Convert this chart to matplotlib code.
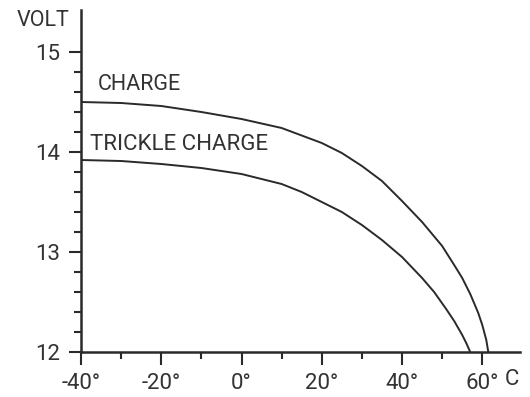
import numpy as np
import matplotlib
matplotlib.use("Agg")
import matplotlib.pyplot as plt
from matplotlib.ticker import FixedLocator

# Values (temperature in deg C, voltage in V)
charge_temp = [-40, -30, -20, -10, 0, 10, 20, 25, 30, 35, 40, 45, 50, 53, 55, 57, 59, 60, 61, 61.5]
charge_volt = [14.50, 14.49, 14.46, 14.40, 14.33, 14.24, 14.09, 13.99, 13.86, 13.71,
               13.51, 13.30, 13.06, 12.87, 12.74, 12.58, 12.39, 12.27, 12.12, 12.0]

trickle_temp = [-40, -30, -20, -10, 0, 10, 15, 20, 25, 30, 35, 40, 45, 48, 51, 53, 55, 56, 57]
trickle_volt = [13.92, 13.91, 13.88, 13.84, 13.78, 13.68, 13.60, 13.50, 13.40, 13.27,
                13.12, 12.95, 12.74, 12.60, 12.43, 12.31, 12.17, 12.09, 12.0]

x_major = [-40, -20, 0, 20, 40, 60]
x_labels = ["-40°", "-20°", "0°", "20°", "40°", "60°"]
x_minor = [-30, -10, 10, 30, 50]
y_major = [12, 13, 14, 15]
y_labels = ["12", "13", "14", "15"]
y_minor = [12.2, 12.4, 12.6, 12.8, 13.2, 13.4, 13.6, 13.8, 14.2, 14.4, 14.6, 14.8]

ink = "#2a2a2a"
txt = "#333333"
plt.rcParams["font.family"] = ["Roboto", "DejaVu Sans"]

fig = plt.figure(figsize=(5.30, 3.97), dpi=100)
ax = fig.add_axes([81 / 530, 1 - 352 / 397, 439 / 530, 342 / 397])

ax.plot(charge_temp, charge_volt, color=ink, lw=1.4, solid_capstyle="butt")
ax.plot(trickle_temp, trickle_volt, color=ink, lw=1.4, solid_capstyle="butt")

ax.set_xlim(-40, 69.4)
ax.set_ylim(12, 15.42)

for s in ["top", "right"]:
    ax.spines[s].set_visible(False)
for s in ["left", "bottom"]:
    ax.spines[s].set_linewidth(1.8)
    ax.spines[s].set_color(ink)

ax.xaxis.set_major_locator(FixedLocator(x_major))
ax.xaxis.set_minor_locator(FixedLocator(x_minor))
ax.set_xticklabels(x_labels)
ax.yaxis.set_major_locator(FixedLocator(y_major))
ax.yaxis.set_minor_locator(FixedLocator(y_minor))
ax.set_yticklabels(y_labels)

ax.tick_params(axis="both", which="major", direction="out", length=9, width=1.5,
               color=ink, labelcolor=txt, labelsize=16)
ax.tick_params(axis="both", which="minor", direction="out", length=5, width=1.5, color=ink)
ax.tick_params(axis="x", which="major", pad=6)
ax.tick_params(axis="y", which="major", pad=6)

ax.text(-49.5, 15.31, "VOLT", ha="center", va="center", fontsize=15.5, color=txt, clip_on=False)
ax.text(-35.8, 14.67, "CHARGE", ha="left", va="center", fontsize=15.5, color=txt)
ax.text(-37.8, 14.08, "TRICKLE CHARGE", ha="left", va="center", fontsize=16,
        color=txt)
ax.text(67.4, -0.05, "C", transform=ax.get_xaxis_transform(), ha="center", va="top",
        fontsize=16, color=txt, clip_on=False)

fig.savefig("out.png", dpi=100)
